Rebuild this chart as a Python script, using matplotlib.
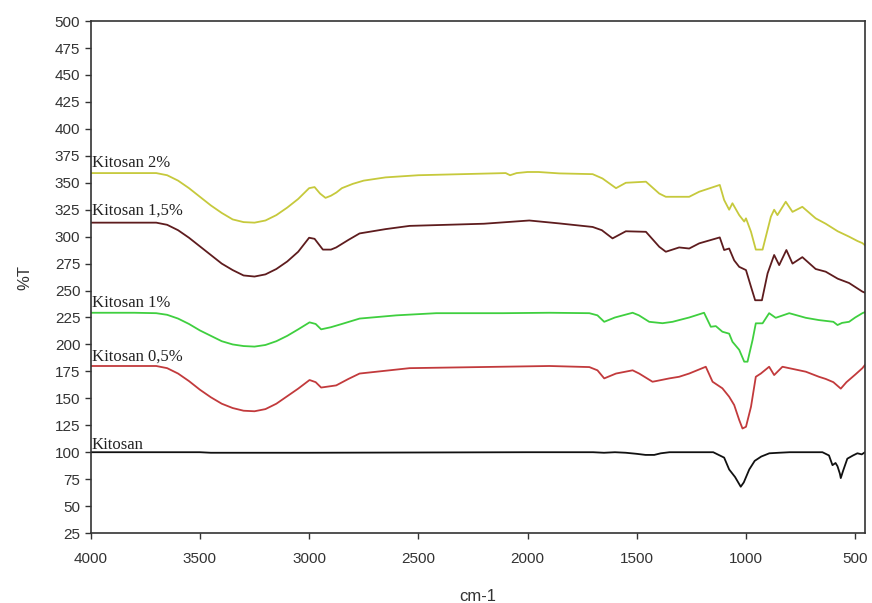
import matplotlib.pyplot as plt

# bilangan gelombang (cm-1) dan %T yang dibaca dari gambar
x_2 = [4000, 3800, 3700, 3650, 3600, 3550, 3500, 3450, 3400, 3350, 3300, 3250, 3200, 3150, 3100,
       3050, 3000, 2975, 2950, 2925, 2900, 2875, 2850, 2800, 2750, 2650, 2500, 2300, 2100, 2080,
       2050, 2000, 1950, 1855, 1702, 1657, 1595, 1550, 1458, 1397, 1367, 1306, 1260, 1214, 1120,
       1100, 1077, 1062, 1031, 1008, 1000, 977, 955, 924, 886, 871, 856, 818, 787, 742, 681,
       635, 580, 528, 490, 467, 455]
y_2 = [359, 359, 359, 357, 352, 345, 337, 329, 322, 316, 313.5, 313, 315, 320, 327,
       335, 345, 346, 340, 336, 338, 341, 345, 349, 352, 355, 357, 358, 359, 357,
       359, 360, 360, 358.7, 358, 354, 345, 350, 351, 340, 337, 337, 337, 341.7, 348,
       334, 325, 331, 320, 314, 317, 304.5, 288, 288, 318.5, 325, 320, 332.4, 323, 327.7, 317,
       312, 305, 300, 296, 294, 292]

x_15 = [4000, 3800, 3700, 3650, 3600, 3550, 3500, 3450, 3400, 3350, 3300, 3250, 3200, 3150, 3100,
        3050, 3000, 2975, 2937, 2900, 2876, 2820, 2769, 2650, 2540, 2200, 1992, 1855, 1702, 1660,
        1611, 1550, 1458, 1397, 1367, 1306, 1260, 1214, 1120, 1100, 1077, 1054, 1031, 1000, 977,
        958, 927, 901, 871, 848, 815, 787, 742, 681, 635, 580, 528, 467, 455]
y_15 = [313, 313, 313, 311, 306, 299, 291, 283, 275, 269, 264, 263, 265, 270, 277,
        286, 299, 298, 288, 288, 290, 297, 303, 307, 310, 312, 315, 312.3, 309, 306,
        298.4, 305, 304.5, 290.6, 286, 290, 289, 293.8, 299.3, 287.6, 289, 278, 272, 269, 253.5,
        241, 241, 266, 283, 273.6, 287.6, 275, 281, 270, 267.5, 261, 257, 249, 248]

x_1 = [4000, 3800, 3700, 3650, 3600, 3550, 3500, 3450, 3400, 3350, 3300, 3250, 3200, 3150, 3100,
       3050, 2998, 2970, 2945, 2900, 2850, 2769, 2600, 2418, 2113, 1900, 1717, 1680, 1649, 1600,
       1519, 1490, 1443, 1382, 1336, 1306, 1260, 1192, 1161, 1138, 1108, 1077, 1062, 1031, 1008,
       993, 970, 955, 924, 894, 864, 802, 726, 666, 600, 581, 560, 528, 500, 467, 455]
y_1 = [229.4, 229.4, 229, 227.5, 224, 219, 213, 208, 203, 200, 198.5, 198, 199.5, 203, 208,
       214, 220.5, 219, 214, 216, 219, 224, 227, 229, 229, 229.4, 229, 227, 221, 225,
       229.4, 227, 221, 219.7, 221, 222.6, 225, 229.4, 216.4, 217, 211.8, 210, 202.5, 195, 184,
       184, 204, 219.6, 219.6, 229, 224.7, 229, 224.7, 222.6, 221, 218, 220, 221, 225, 229, 230]

x_05 = [4000, 3800, 3700, 3650, 3600, 3550, 3500, 3450, 3400, 3350, 3300, 3250, 3200, 3150, 3100,
        3050, 2998, 2970, 2945, 2876, 2820, 2769, 2540, 1900, 1717, 1680, 1649, 1595, 1519, 1489,
        1428, 1412, 1351, 1306, 1260, 1184, 1153, 1108, 1077, 1054, 1031, 1016, 1000, 977, 955,
        932, 894, 871, 833, 726, 666, 635, 600, 566, 540, 500, 467, 455]
y_05 = [180, 180, 180, 178, 173, 166, 158, 151, 145, 141, 138.5, 138, 140, 145, 152,
        159, 167, 165, 160, 162, 168, 173, 178, 180, 179, 176, 168.5, 173, 176, 173,
        165.4, 166, 168.5, 170, 173, 179.3, 165.4, 159.3, 151.5, 143.8, 129.9, 122, 123.6, 142.2, 170,
        173, 179.3, 171.6, 179.3, 174.7, 170, 168, 165, 159, 165, 172, 178, 181]

x_0 = [4000, 3500, 3450, 3000, 2000, 1700, 1650, 1600, 1550, 1500, 1460, 1420, 1390, 1350, 1150,
       1100, 1077, 1050, 1024, 1010, 985, 960, 930, 893, 850, 800, 650, 620, 604, 590, 581, 570,
       566, 555, 536, 510, 490, 470, 455]
y_0 = [100, 100, 99.5, 99.5, 100, 100, 99.5, 100, 99.5, 98.5, 97.5, 97.5, 99, 100, 100,
       95, 84, 77, 68, 72, 84, 92, 96, 99, 99.5, 100, 100, 97, 88, 90, 87, 80,
       76, 83, 94, 97, 99, 98, 100]

series = [
    (x_2, y_2, '#c6c93c', 'Kitosan 2%', 365),
    (x_15, y_15, '#5e1c1e', 'Kitosan 1,5%', 320),
    (x_1, y_1, '#3fcf3f', 'Kitosan 1%', 235),
    (x_05, y_05, '#c23a3c', 'Kitosan 0,5%', 185),
    (x_0, y_0, '#111111', 'Kitosan', 103),
]

fig = plt.figure(figsize=(8.72, 6.03), dpi=100)
ax = fig.add_axes([0.104, 0.116, 0.888, 0.849])

for xs, ys, col, lab, ty in series:
    ax.plot(xs, ys, color=col, lw=1.3)
    ax.text(3995, ty, lab, family='Liberation Serif', fontsize=12, color='#222222',
            ha='left', va='baseline')

ax.set_xlim(4000, 455)
ax.set_ylim(25, 500)
ax.set_xticks(range(4000, 499, -500))
ax.set_yticks(range(25, 501, 25))
ax.tick_params(direction='out', length=4, width=1, labelsize=11, colors='#333333',
               top=False, right=False)
ax.tick_params(axis='x', pad=10)
for lbl in ax.get_xticklabels() + ax.get_yticklabels():
    lbl.set_family('Liberation Sans')
for s in ax.spines.values():
    s.set_linewidth(1.2)
    s.set_color('#333333')

ax.set_xlabel('cm-1', fontsize=12, family='Liberation Sans', color='#333333', labelpad=16)
ax.set_ylabel('%T', fontsize=12, family='Liberation Sans', color='#333333', labelpad=16)

plt.savefig('out.png', dpi=100)
